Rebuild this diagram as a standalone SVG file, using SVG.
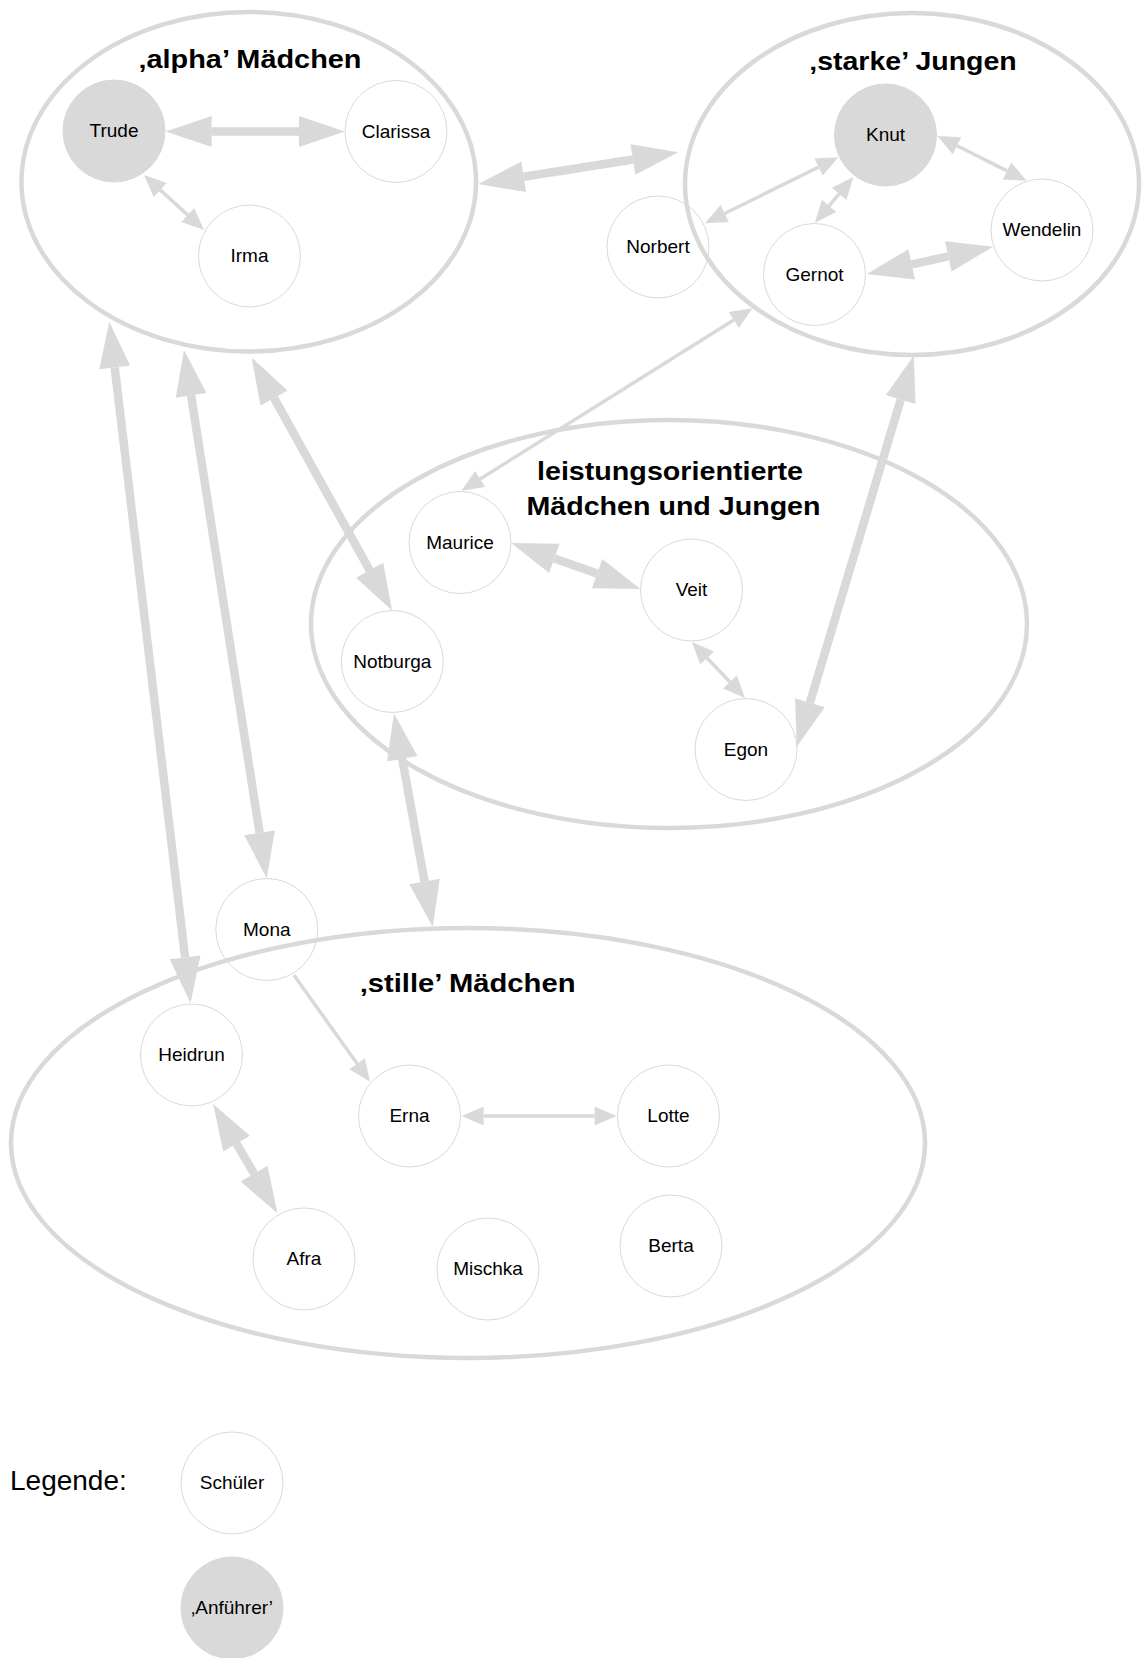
<svg xmlns="http://www.w3.org/2000/svg" width="1145" height="1658" viewBox="0 0 1145 1658">
<style>
.bg{fill:#ffffff}
.cl{fill:none;stroke:#d9d9d9;stroke-width:4.5}
.tt{font-family:"Liberation Sans",Arial,sans-serif;font-weight:bold;font-size:25.5px;fill:#000;text-anchor:middle}
.nd{fill:#ffffff;stroke:#d9d9d9;stroke-width:1}
.ld{fill:#d9d9d9;stroke:#d9d9d9;stroke-width:1}
.lb{font-family:"Liberation Sans",Arial,sans-serif;font-size:19px;fill:#000;text-anchor:middle}
.lg{font-family:"Liberation Sans",Arial,sans-serif;font-size:28px;fill:#000}
.e{stroke:#d9d9d9;fill:none;stroke-linecap:butt}
.tk{stroke-width:8.5;marker-start:url(#hb);marker-end:url(#hb)}
.tn{stroke-width:3.5;marker-start:url(#hs);marker-end:url(#hs)}
.tn1{stroke-width:3.5;marker-end:url(#hs)}
</style>
<defs>
<marker id="hb" markerUnits="userSpaceOnUse" markerWidth="46" markerHeight="31" refX="0" refY="0" orient="auto-start-reverse" overflow="visible"><path d="M0,-15.5 L46,0 L0,15.5 z" fill="#d9d9d9"/></marker>
<marker id="hs" markerUnits="userSpaceOnUse" markerWidth="22" markerHeight="19" refX="0" refY="0" orient="auto-start-reverse" overflow="visible"><path d="M0,-9.5 L22,0 L0,9.5 z" fill="#d9d9d9"/></marker>
</defs>
<rect class="bg" x="0" y="0" width="1145" height="1658"/>

<g id="nodes">
<g id="n-trude"><circle class="ld" cx="114" cy="131" r="51"/><text class="lb" x="114" y="137.3">Trude</text></g>
<g id="n-clarissa"><circle class="nd" cx="396" cy="131.5" r="51"/><text class="lb" x="396" y="137.8">Clarissa</text></g>
<g id="n-irma"><circle class="nd" cx="249.5" cy="256" r="51"/><text class="lb" x="249.5" y="262.3">Irma</text></g>
<g id="n-knut"><circle class="ld" cx="885.5" cy="135" r="51"/><text class="lb" x="885.5" y="141.3">Knut</text></g>
<g id="n-norbert"><circle class="nd" cx="658" cy="247" r="51"/><text class="lb" x="658" y="253.3">Norbert</text></g>
<g id="n-gernot"><circle class="nd" cx="814.5" cy="274.5" r="51"/><text class="lb" x="814.5" y="280.8">Gernot</text></g>
<g id="n-wendelin"><circle class="nd" cx="1042" cy="230" r="51"/><text class="lb" x="1042" y="236.3">Wendelin</text></g>
<g id="n-maurice"><circle class="nd" cx="460" cy="542.5" r="51"/><text class="lb" x="460" y="548.8">Maurice</text></g>
<g id="n-veit"><circle class="nd" cx="691.5" cy="590" r="51"/><text class="lb" x="691.5" y="596.3">Veit</text></g>
<g id="n-notburga"><circle class="nd" cx="392.3" cy="661.5" r="51"/><text class="lb" x="392.3" y="667.8">Notburga</text></g>
<g id="n-egon"><circle class="nd" cx="746" cy="749.5" r="51"/><text class="lb" x="746" y="755.8">Egon</text></g>
<g id="n-mona"><circle class="nd" cx="266.8" cy="929.5" r="51"/><text class="lb" x="266.8" y="935.8">Mona</text></g>
<g id="n-heidrun"><circle class="nd" cx="191.5" cy="1055" r="51"/><text class="lb" x="191.5" y="1061.3">Heidrun</text></g>
<g id="n-erna"><circle class="nd" cx="409.5" cy="1116" r="51"/><text class="lb" x="409.5" y="1122.3">Erna</text></g>
<g id="n-lotte"><circle class="nd" cx="668.5" cy="1116" r="51"/><text class="lb" x="668.5" y="1122.3">Lotte</text></g>
<g id="n-afra"><circle class="nd" cx="304" cy="1259" r="51"/><text class="lb" x="304" y="1265.3">Afra</text></g>
<g id="n-mischka"><circle class="nd" cx="488" cy="1269" r="51"/><text class="lb" x="488" y="1275.3">Mischka</text></g>
<g id="n-berta"><circle class="nd" cx="671" cy="1246" r="51"/><text class="lb" x="671" y="1252.3">Berta</text></g>
</g>

<g id="clusters">
<g id="c-alpha"><ellipse class="cl" cx="248.75" cy="181.75" rx="227.3" ry="169.75"/><text class="tt" x="250" y="68.3" textLength="223" lengthAdjust="spacingAndGlyphs">‚alpha’ Mädchen</text></g>
<g id="c-starke"><ellipse class="cl" cx="912" cy="184" rx="227" ry="171"/><text class="tt" x="913" y="70" textLength="207.5" lengthAdjust="spacingAndGlyphs">‚starke’ Jungen</text></g>
<g id="c-leistung"><ellipse class="cl" cx="669" cy="624" rx="358" ry="204"/><text class="tt" x="670" y="480" textLength="266" lengthAdjust="spacingAndGlyphs">leistungsorientierte</text><text class="tt" x="673.5" y="515" textLength="294" lengthAdjust="spacingAndGlyphs">Mädchen und Jungen</text></g>
<g id="c-stille"><ellipse class="cl" cx="468" cy="1143" rx="457" ry="215"/><text class="tt" x="467.6" y="991.7" textLength="215.8" lengthAdjust="spacingAndGlyphs">‚stille’ Mädchen</text></g>
</g>

<g id="connectors">
<line class="e tk" x1="211.7" y1="131.5" x2="299" y2="131.5"/>
<line class="e tk" x1="523.7" y1="176.8" x2="632.9" y2="159.5"/>
<line class="e tn" x1="160.2" y1="189.9" x2="187.8" y2="215.1"/>
<line class="e tn" x1="724.7" y1="213.5" x2="818.6" y2="167.1"/>
<line class="e tn" x1="829.1" y1="205.8" x2="839.2" y2="193.8"/>
<line class="e tn" x1="957" y1="145.8" x2="1007" y2="170.9"/>
<line class="e tk" x1="911.7" y1="264.3" x2="948.3" y2="256.4"/>
<line class="e tn" x1="733.8" y1="320" x2="480.1" y2="479"/>
<line class="e tk" x1="554.4" y1="558.4" x2="597.1" y2="573.6"/>
<line class="e tn" x1="707.1" y1="658" x2="729.9" y2="682"/>
<line class="e tk" x1="900.7" y1="399.5" x2="809.9" y2="702.8"/>
<line class="e tk" x1="114.7" y1="367.4" x2="185.1" y2="957.3"/>
<line class="e tk" x1="191.1" y1="395.4" x2="259.6" y2="832.9"/>
<line class="e tk" x1="274" y1="397.9" x2="369.7" y2="570.3"/>
<line class="e tk" x1="402.2" y1="758.8" x2="424.5" y2="881.4"/>
<line class="e tn1" x1="293.8" y1="975" x2="357.2" y2="1063.8"/>
<line class="e tn" x1="483.7" y1="1116" x2="594.7" y2="1116"/>
<line class="e tk" x1="236.5" y1="1143.7" x2="254.1" y2="1173.6"/>
</g>

<g id="legend">
<text class="lg" x="10" y="1490">Legende:</text>
<g id="legend-schueler"><circle class="nd" cx="232" cy="1483" r="51"/><text class="lb" x="232" y="1489.3">Schüler</text></g>
<g id="legend-anfuehrer"><circle class="ld" cx="232" cy="1608" r="51"/><text class="lb" x="232" y="1614.3">‚Anführer’</text></g>
</g>
</svg>
